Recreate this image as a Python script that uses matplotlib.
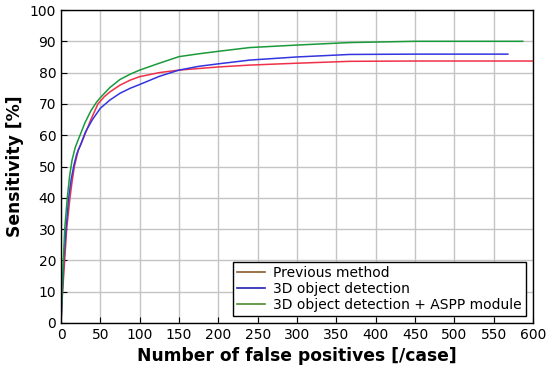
import matplotlib
matplotlib.use("Agg")
import matplotlib.pyplot as plt
from matplotlib.lines import Line2D

prev_x = [0, 2, 4.7, 7.2, 11.4, 14, 17, 22, 26, 30, 38, 47, 55, 62, 75, 88, 100, 125, 150, 175, 200, 240, 300, 367, 450, 600]
prev_y = [0, 10, 20, 30, 40, 45, 50, 55.3, 57.5, 60, 65, 70, 72.3, 73.8, 76, 77.6, 78.7, 80, 80.8, 81.3, 81.8, 82.4, 83, 83.6, 83.7, 83.7]

det_x = [0, 1.8, 3.4, 6.4, 9.7, 13, 16.5, 20, 25, 31, 40, 50, 62, 75, 88, 100, 125, 150, 175, 200, 240, 300, 367, 450, 568]
det_y = [0, 10, 20, 30, 40, 46, 50.5, 54, 57, 61, 65, 68.6, 71.2, 73.4, 75, 76.2, 78.8, 80.8, 82, 82.8, 84, 85, 85.8, 85.9, 85.9]

aspp_x = [0, 1.5, 3, 4.7, 8, 11, 14, 18, 21, 25, 30.5, 38, 45, 50, 62, 75, 88, 100, 125, 150, 175, 200, 240, 300, 367, 450, 587]
aspp_y = [0, 10, 20, 30, 40, 47, 52, 56, 58, 60.5, 64, 67.8, 70.5, 72, 75.2, 77.8, 79.5, 80.8, 83, 85.1, 86, 86.8, 88, 88.8, 89.6, 90, 90]

labels = ["Previous method", "3D object detection", "3D object detection + ASPP module"]
xticks = list(range(0, 601, 50))
yticks = list(range(0, 101, 10))

fig = plt.figure(figsize=(5.5, 3.7), dpi=100)
ax = fig.add_axes([61/550, 47/370, 472/550, 313/370])

ax.plot(prev_x, prev_y, color="#f03048", lw=1.1)
ax.plot(det_x, det_y, color="#3434e0", lw=1.1)
ax.plot(aspp_x, aspp_y, color="#1a9a3a", lw=1.1)

ax.set_xlim(0, 600)
ax.set_ylim(0, 100)
ax.set_xticks(xticks)
ax.set_yticks(yticks)
ax.tick_params(direction="in", labelsize=10, length=4, colors="black")
ax.grid(True, color="#c4c4c4", lw=1.0)
ax.set_axisbelow(True)
for s in ax.spines.values():
    s.set_color("black")
    s.set_linewidth(1.0)

ax.set_xlabel("Number of false positives [/case]", fontsize=12.3, fontweight="bold", labelpad=4)
ax.set_ylabel("Sensitivity [%]", fontsize=12.3, fontweight="bold", labelpad=4)

handles = [Line2D([], [], color="#8a5a2e", lw=1.2),
           Line2D([], [], color="#2020b0", lw=1.2),
           Line2D([], [], color="#4e8a2e", lw=1.2)]
leg = ax.legend(handles, labels, loc="lower right", fontsize=10, frameon=True, fancybox=False,
                edgecolor="black", framealpha=1, borderpad=0.3, labelspacing=0.15,
                handlelength=2.0, handletextpad=0.6, borderaxespad=0.5)
leg.get_frame().set_linewidth(1.0)

fig.savefig("out.png", dpi=100)
